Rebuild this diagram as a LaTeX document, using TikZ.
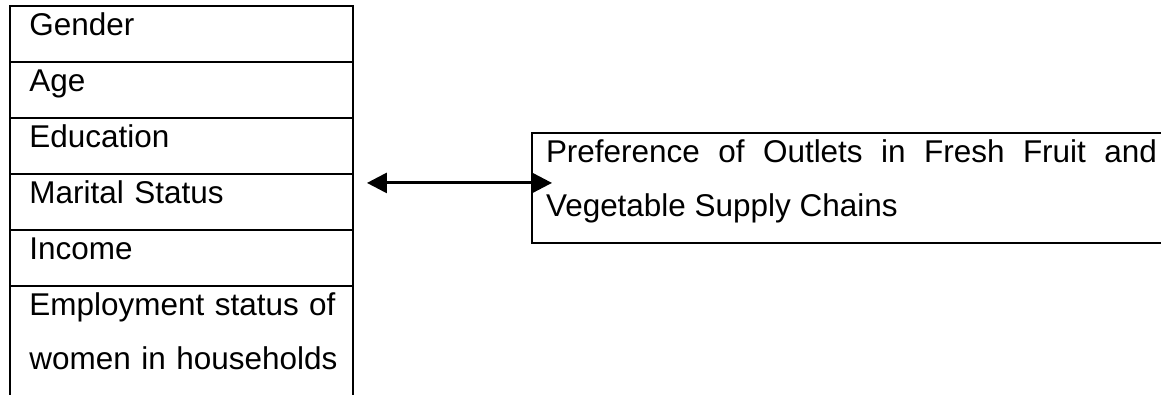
\documentclass[tikz,border=0pt]{standalone}
\usepackage{fontspec}
\setmainfont{Liberation Sans}
\usetikzlibrary{positioning,arrows.meta}
\hyphenpenalty=10000

\begin{document}
\begin{tikzpicture}[x=0.375pt,y=-0.375pt,node distance=0pt]
\tikzstyle{row}=[rectangle,draw,line width=0.9pt,outer sep=0pt,align=left,text width=114pt,inner xsep=7.3pt,inner ysep=0pt,text height=11.25pt,text depth=9.75pt,font=\fontsize{11.8}{20.25}\selectfont]
\tikzstyle{outlet}=[row,anchor=north west,text width=229.1pt,inner xsep=5.25pt,align=justify,text depth=30pt]
\useasboundingbox (0,0) rectangle (1161,395);
\clip (0,0) rectangle (1161,395);
\node[row,anchor=north west](gender) at (10,6) {Gender};
\node[row,below=of gender](age) {Age};
\node[row,below=of age](edu) {Education};
\node[row,below=of edu](marital) {Marital Status};
\node[row,below=of marital](income) {Income};
\node[row,below=of income,text depth=30pt](employ) {\mbox{Employment status of}\\\mbox{women in households}};

\node[outlet](pref) at (532,133) {Preference of Outlets in Fresh Fruit and Vegetable Supply Chains};

\draw[{Triangle[length=7.5pt,width=7.5pt]}-{Triangle[length=7.5pt,width=7.5pt]},line width=1.1pt] ([xshift=5.25pt,yshift=1.9pt]marital.east |- pref.west) -- ([xshift=7.5pt,yshift=1.9pt]pref.west);
\end{tikzpicture}
\end{document}
